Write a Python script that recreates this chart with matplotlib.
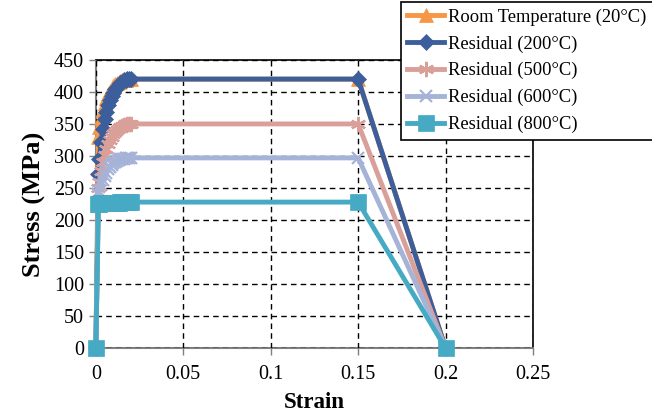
import matplotlib
matplotlib.use("Agg")
import matplotlib.pyplot as plt

strain = [0.0, 0.0015, 0.002, 0.003, 0.004, 0.005, 0.006, 0.007, 0.008, 0.009, 0.010,
          0.011, 0.012, 0.013, 0.014, 0.015, 0.016, 0.017, 0.018, 0.019, 0.020, 0.15, 0.2]

room_20 = [0, 330, 345, 360, 372, 382, 390, 396, 401, 405, 409, 412, 414, 416, 417, 418, 419, 419, 420, 420, 420, 420, 0]
res_200 = [0, 272, 296, 322, 342, 357, 369, 379, 387, 394, 399, 404, 408, 411, 414, 416, 418, 419, 420, 420, 420, 420, 0]
res_500 = [0, 250, 260, 277, 291, 302, 311, 319, 325, 330, 334, 338, 341, 343, 345, 347, 348, 349, 350, 350, 350, 350, 0]
res_600 = [0, 240, 246, 255, 263, 269, 274, 279, 283, 286, 289, 291, 292, 294, 295, 296, 296, 297, 297, 297, 297, 297, 0]
res_800 = [0, 225, 225, 226, 226, 226, 226, 227, 227, 227, 227, 227, 227, 227, 228, 228, 228, 228, 228, 228, 228, 228, 0]

labels = ["Room Temperature (20°C)", "Residual (200°C)", "Residual (500°C)",
          "Residual (600°C)", "Residual (800°C)"]
series = [room_20, res_200, res_500, res_600, res_800]
colors = ["#F79646", "#3C5F9B", "#D9A09A", "#A6B3D8", "#46AAC4"]
markers = ["^", "D", (6, 2, 0), "x", "s"]
msizes = [10, 8, 11, 9, 11]

xticks = [0, 0.05, 0.1, 0.15, 0.2, 0.25]
xtick_labels = ["0", "0.05", "0.1", "0.15", "0.2", "0.25"]
yticks = [0, 50, 100, 150, 200, 250, 300, 350, 400, 450]

plt.rcParams['font.family'] = ['Liberation Serif', 'DejaVu Serif']

fig = plt.figure(figsize=(6.52, 4.13), dpi=100)
ax = fig.add_axes([0.147, 0.157, 0.6705, 0.698])

for y, lab, c, m, ms in zip(series, labels, colors, markers, msizes):
    mew = 1.6 if m == "x" or isinstance(m, tuple) else 0.5
    ax.plot(strain, y, color=c, lw=3.5, marker=m, ms=ms, mec=c, mfc=c, mew=mew,
            label=lab, clip_on=False, zorder=3)

ax.set_xlim(0, 0.25)
ax.set_ylim(0, 450)
ax.set_xticks(xticks)
ax.set_xticklabels(xtick_labels)
ax.set_yticks(yticks)
ax.tick_params(axis='both', labelsize=14.5, colors='#808080', labelcolor='black',
               direction='out', length=5, width=1)
ax.tick_params(axis='x', pad=7)
ax.grid(True, color='black', linestyle=(0, (4, 3)), linewidth=1)
ax.set_axisbelow(True)
for s in ("left", "bottom"):
    ax.spines[s].set_color('#808080')
    ax.spines[s].set_linewidth(1.5)
for s in ("top", "right"):
    ax.spines[s].set_color('black')
    ax.spines[s].set_linewidth(1.2)
for l in ax.spines.values():
    l.set_zorder(0.5)

ax.set_xlabel("Strain", fontsize=16.5, fontweight='bold', labelpad=6)
ax.set_ylabel("Stress (MPa)", fontsize=19, fontweight='bold', labelpad=6)

leg = fig.legend(loc='upper left', bbox_to_anchor=(0.612, 1.0), fontsize=13.3,
                 frameon=True, fancybox=False, edgecolor='black', framealpha=1,
                 handlelength=2.0, handletextpad=0.2, labelspacing=0.52,
                 borderpad=0.35, borderaxespad=0.1)
leg.get_frame().set_linewidth(1.2)
leg.set_zorder(10)

fig.savefig("out.png", dpi=100)
